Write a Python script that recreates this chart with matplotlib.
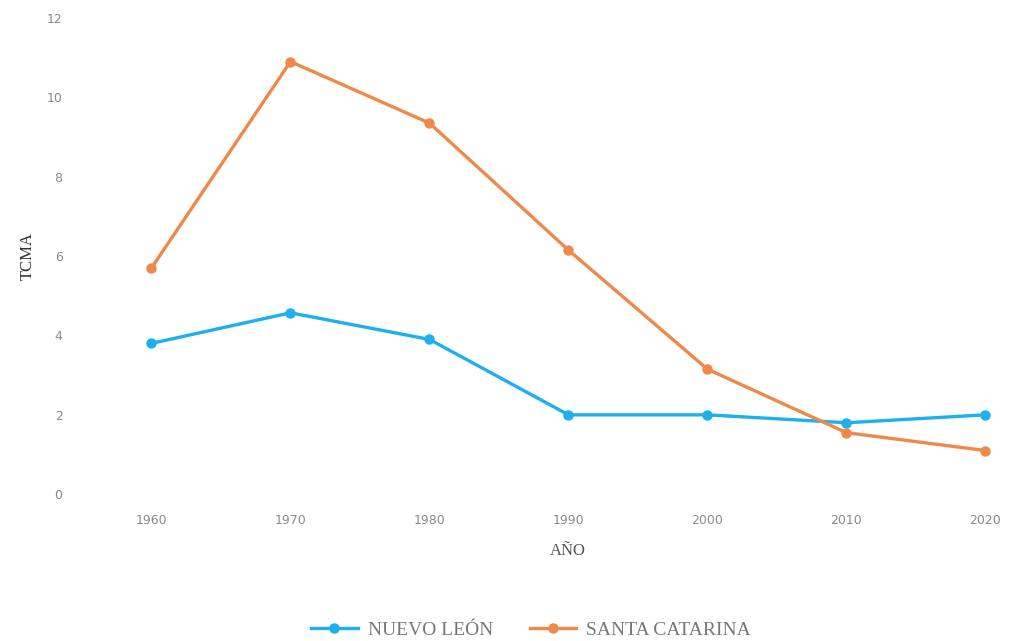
import matplotlib
matplotlib.use('Agg')
from matplotlib import pyplot as plt

years = ['1960', '1970', '1980', '1990', '2000', '2010', '2020']
nuevo_leon = [3.8, 4.57, 3.9, 2.0, 2.0, 1.8, 2.0]
santa_catarina = [5.7, 10.9, 9.35, 6.15, 3.15, 1.55, 1.1]
y_ticks = [0, 2, 4, 6, 8, 10, 12]

fig = plt.figure(figsize=(10.12, 6.41), dpi=100)
ax = fig.add_axes([0.081, 0.229, 0.919, 0.743])

x = list(range(len(years)))
ax.plot(x, nuevo_leon, color='#1CB0EE', linewidth=2.4, marker='o', markersize=6.5,
        label='NUEVO LEÓN')
ax.plot(x, santa_catarina, color='#F0884A', linewidth=2.4, marker='o', markersize=6.5,
        label='SANTA CATARINA')

ax.set_xlim(-0.5, -0.5 + 930 / 139)
ax.set_ylim(0, 12)
ax.set_xticks(x)
ax.set_xticklabels(years)
ax.set_yticks(y_ticks)
ax.set_yticklabels([str(v) for v in y_ticks])

for side in ['top', 'right', 'left', 'bottom']:
    ax.spines[side].set_visible(False)
ax.tick_params(axis='both', length=0, labelsize=9, colors='#8a8a8a')
ax.tick_params(axis='x', pad=14)
ax.tick_params(axis='y', pad=14)

ax.set_xlabel('AÑO', family='Liberation Serif', fontsize=12, color='#555555', labelpad=12)
ax.xaxis.label.set_x((568 - 82) / 930)
ax.set_ylabel('TCMA', family='Liberation Serif', fontsize=12, color='#333333', labelpad=8)

fig.legend(loc='center', bbox_to_anchor=(531 / 1012, 1 - 630 / 641), ncol=2, frameon=False,
           prop={'family': 'Liberation Serif', 'size': 14}, labelcolor='#777777',
           handlelength=2.4, columnspacing=1.9, handletextpad=0.5)

plt.savefig('out.png', dpi=100)
